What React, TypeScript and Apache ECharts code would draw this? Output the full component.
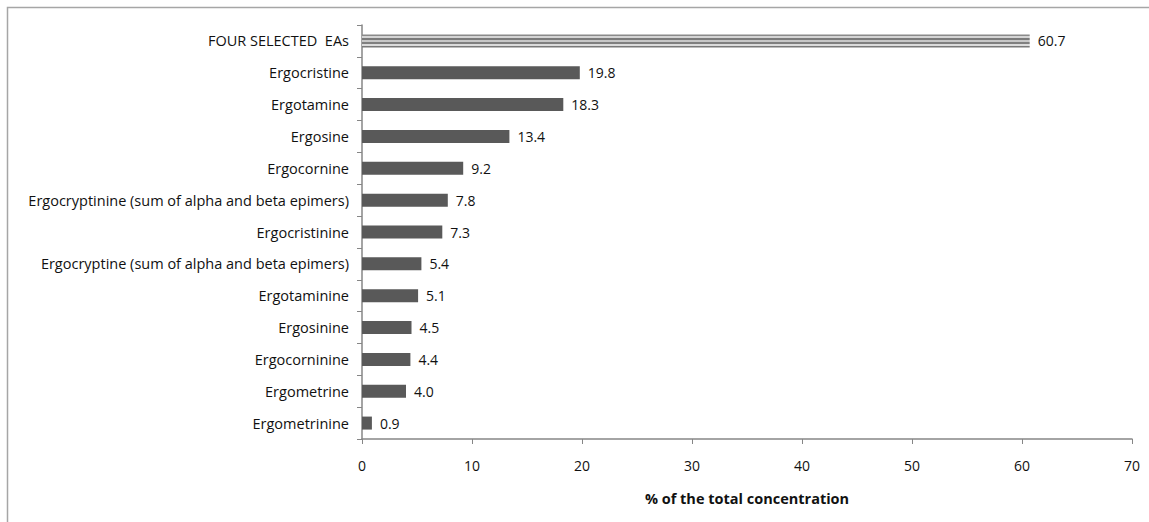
import React, { useEffect, useRef } from "react";
import * as echarts from "echarts";

const categories = [
  "FOUR SELECTED  EAs",
  "Ergocristine",
  "Ergotamine",
  "Ergosine",
  "Ergocornine",
  "Ergocryptinine (sum of alpha and beta epimers)",
  "Ergocristinine",
  "Ergocryptine (sum of alpha and beta epimers)",
  "Ergotaminine",
  "Ergosinine",
  "Ergocorninine",
  "Ergometrine",
  "Ergometrinine",
];
const values = [60.7, 19.8, 18.3, 13.4, 9.2, 7.8, 7.3, 5.4, 5.1, 4.5, 4.4, 4.0, 0.9];
const xTicks = [0, 10, 20, 30, 40, 50, 60, 70];

const stripeStops = (() => {
  const cols = ["#8a8a8a", "#d4d4d4", "#7a7a7a", "#c8c8c8", "#808080", "#dcdcdc", "#7a7a7a"];
  const stops: { offset: number; color: string }[] = [];
  cols.forEach((c, i) => {
    stops.push({ offset: i / cols.length, color: c });
    stops.push({ offset: (i + 1) / cols.length, color: c });
  });
  return stops;
})();

export default function App() {
  const ref = useRef<HTMLDivElement>(null);
  useEffect(() => {
    if (!ref.current) return;
    const chart = echarts.init(ref.current, undefined, { renderer: "svg" });
    const font = "'Open Sans', sans-serif";
    chart.setOption({
      animation: false,
      textStyle: { fontFamily: font },
      graphic: [
        {
          type: "rect",
          shape: { x: 7.5, y: 7.5, width: 1300, height: 700 },
          style: { fill: "none", stroke: "#a6a6a6", lineWidth: 1.5 },
          silent: true,
        },
      ],
      grid: { left: 362, right: 17, top: 25, bottom: 83, containLabel: false },
      xAxis: {
        type: "value",
        min: xTicks[0],
        max: xTicks[xTicks.length - 1],
        interval: 10,
        name: "% of the total concentration",
        nameLocation: "middle",
        nameGap: 52,
        nameTextStyle: { fontFamily: font, fontSize: 14.5, fontWeight: "bold", color: "#111" },
        axisLine: { show: true, lineStyle: { color: "#868686", width: 1.5 } },
        axisTick: { show: true, length: 5, lineStyle: { color: "#868686" } },
        axisLabel: { fontFamily: font, fontSize: 14, color: "#111", margin: 19 },
        splitLine: { show: false },
      },
      yAxis: {
        type: "category",
        inverse: true,
        data: categories,
        axisLine: { show: true, lineStyle: { color: "#868686", width: 1.5 } },
        axisTick: { show: true, length: 5, alignWithLabel: false, lineStyle: { color: "#868686" } },
        axisLabel: { fontFamily: font, fontSize: 14.5, color: "#111", margin: 13 },
        splitLine: { show: false },
      },
      series: [
        {
          type: "bar",
          barWidth: 13,
          data: values.map((v, i) =>
            i === 0
              ? {
                  value: v,
                  itemStyle: {
                    color: { type: "linear", x: 0, y: 0, x2: 0, y2: 1, colorStops: stripeStops },
                  },
                }
              : { value: v }
          ),
          itemStyle: { color: "#595959" },
          label: {
            show: true,
            position: "right",
            distance: 8,
            fontFamily: font,
            fontSize: 14,
            color: "#111",
            formatter: (p: any) => Number(p.value).toFixed(1),
          },
        },
      ],
    });
    return () => chart.dispose();
  }, []);
  return (
    <div
      ref={ref}
      style={{ position: "absolute", left: 0, top: 0, width: 1149, height: 522, background: "#fff" }}
    />
  );
}
